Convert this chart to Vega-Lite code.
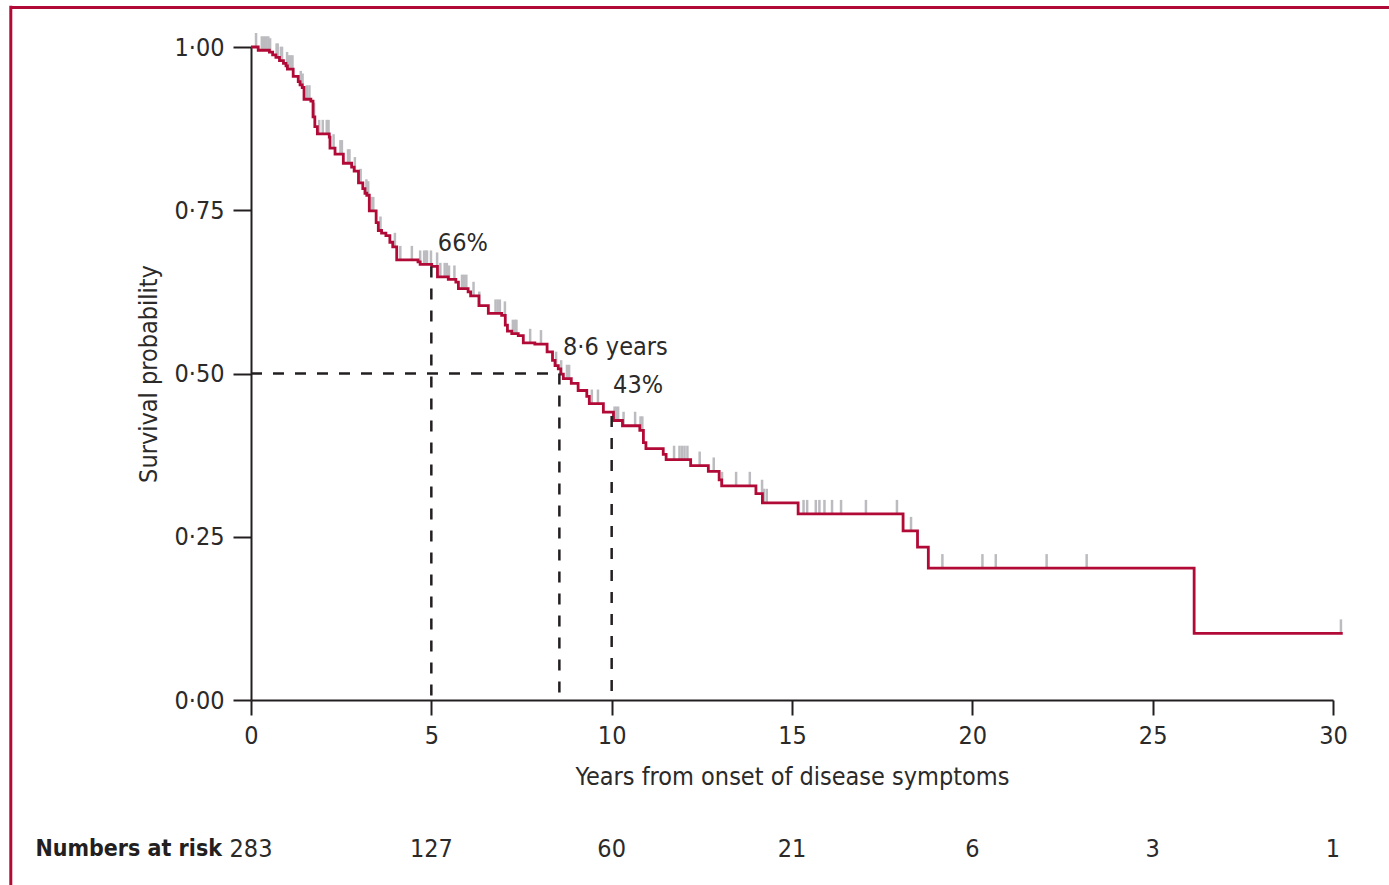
{
  "$schema": "https://vega.github.io/schema/vega-lite/v6.json",
  "autosize": "none",
  "width": 1082,
  "height": 653,
  "padding": {"left": 251, "top": 47, "right": 56, "bottom": 185},
  "background": "white",
  "config": {
    "view": {"stroke": null},
    "font": "DejaVu Sans Condensed, Liberation Sans, sans-serif",
    "axis": {
      "grid": false,
      "domainColor": "#231f20",
      "domainWidth": 2,
      "tickColor": "#231f20",
      "tickWidth": 2,
      "labelFont": "DejaVu Sans Condensed, Liberation Sans, sans-serif",
      "labelFontSize": 25,
      "labelColor": "#2b2a29",
      "titleFont": "DejaVu Sans Condensed, Liberation Sans, sans-serif",
      "titleFontSize": 25,
      "titleFontWeight": "normal",
      "titleColor": "#2b2a29"
    }
  },
  "datasets": {
    "km": [
      {"t": 0, "s": 1.0}, {"t": 0.2, "s": 0.995}, {"t": 0.51, "s": 0.992}, {"t": 0.6, "s": 0.988},
      {"t": 0.69, "s": 0.984}, {"t": 0.79, "s": 0.979}, {"t": 0.9, "s": 0.975}, {"t": 0.97, "s": 0.971},
      {"t": 1.01, "s": 0.966}, {"t": 1.17, "s": 0.955}, {"t": 1.31, "s": 0.947}, {"t": 1.36, "s": 0.942},
      {"t": 1.42, "s": 0.938}, {"t": 1.47, "s": 0.92}, {"t": 1.66, "s": 0.917}, {"t": 1.72, "s": 0.893},
      {"t": 1.77, "s": 0.878}, {"t": 1.84, "s": 0.867}, {"t": 2.17, "s": 0.862}, {"t": 2.19, "s": 0.845},
      {"t": 2.33, "s": 0.836}, {"t": 2.56, "s": 0.822}, {"t": 2.79, "s": 0.816}, {"t": 2.86, "s": 0.81},
      {"t": 2.98, "s": 0.792}, {"t": 3.1, "s": 0.783}, {"t": 3.16, "s": 0.776}, {"t": 3.21, "s": 0.773},
      {"t": 3.28, "s": 0.749}, {"t": 3.47, "s": 0.731}, {"t": 3.53, "s": 0.719}, {"t": 3.62, "s": 0.715},
      {"t": 3.74, "s": 0.711}, {"t": 3.85, "s": 0.701}, {"t": 3.93, "s": 0.694}, {"t": 4.04, "s": 0.674},
      {"t": 4.63, "s": 0.671}, {"t": 4.69, "s": 0.667}, {"t": 5.01, "s": 0.664}, {"t": 5.17, "s": 0.648},
      {"t": 5.47, "s": 0.644}, {"t": 5.68, "s": 0.64}, {"t": 5.75, "s": 0.63}, {"t": 6.02, "s": 0.625},
      {"t": 6.09, "s": 0.619}, {"t": 6.32, "s": 0.604}, {"t": 6.58, "s": 0.592}, {"t": 6.95, "s": 0.589},
      {"t": 7.05, "s": 0.574}, {"t": 7.11, "s": 0.565}, {"t": 7.23, "s": 0.561}, {"t": 7.41, "s": 0.558},
      {"t": 7.55, "s": 0.547}, {"t": 7.87, "s": 0.545}, {"t": 8.21, "s": 0.533}, {"t": 8.36, "s": 0.52},
      {"t": 8.43, "s": 0.512}, {"t": 8.52, "s": 0.507}, {"t": 8.59, "s": 0.499}, {"t": 8.66, "s": 0.492},
      {"t": 8.88, "s": 0.485}, {"t": 9.07, "s": 0.474}, {"t": 9.31, "s": 0.465}, {"t": 9.38, "s": 0.454},
      {"t": 9.77, "s": 0.441}, {"t": 10.05, "s": 0.428}, {"t": 10.3, "s": 0.42}, {"t": 10.78, "s": 0.413},
      {"t": 10.88, "s": 0.394}, {"t": 10.95, "s": 0.385}, {"t": 11.43, "s": 0.376}, {"t": 11.51, "s": 0.368},
      {"t": 12.19, "s": 0.359}, {"t": 12.68, "s": 0.35}, {"t": 12.98, "s": 0.337}, {"t": 13.05, "s": 0.328},
      {"t": 14.0, "s": 0.316}, {"t": 14.18, "s": 0.302}, {"t": 15.17, "s": 0.285}, {"t": 18.08, "s": 0.259},
      {"t": 18.48, "s": 0.234}, {"t": 18.78, "s": 0.202}, {"t": 26.15, "s": 0.102}, {"t": 30.27, "s": 0.102}
    ],
    "censor": [
      {"t": 0.14, "s": 1.0}, {"t": 0.3, "s": 0.995}, {"t": 0.36, "s": 0.995}, {"t": 0.42, "s": 0.995},
      {"t": 0.48, "s": 0.995}, {"t": 0.53, "s": 0.992}, {"t": 0.71, "s": 0.984}, {"t": 0.74, "s": 0.984},
      {"t": 0.83, "s": 0.979}, {"t": 0.86, "s": 0.979}, {"t": 1.0, "s": 0.971}, {"t": 1.05, "s": 0.966},
      {"t": 1.1, "s": 0.966}, {"t": 1.15, "s": 0.966}, {"t": 1.38, "s": 0.942}, {"t": 1.43, "s": 0.938},
      {"t": 1.55, "s": 0.92}, {"t": 1.62, "s": 0.92}, {"t": 1.75, "s": 0.893}, {"t": 1.89, "s": 0.867},
      {"t": 1.99, "s": 0.867}, {"t": 2.1, "s": 0.867}, {"t": 2.15, "s": 0.867}, {"t": 2.29, "s": 0.845},
      {"t": 2.48, "s": 0.836}, {"t": 2.52, "s": 0.836}, {"t": 2.69, "s": 0.822}, {"t": 2.73, "s": 0.822},
      {"t": 2.88, "s": 0.81}, {"t": 3.04, "s": 0.792}, {"t": 3.2, "s": 0.776}, {"t": 3.25, "s": 0.773},
      {"t": 3.35, "s": 0.749}, {"t": 3.39, "s": 0.749}, {"t": 3.59, "s": 0.719}, {"t": 3.99, "s": 0.694},
      {"t": 4.14, "s": 0.674}, {"t": 4.46, "s": 0.674}, {"t": 4.69, "s": 0.667}, {"t": 4.8, "s": 0.667},
      {"t": 4.85, "s": 0.667}, {"t": 4.88, "s": 0.667}, {"t": 4.99, "s": 0.667}, {"t": 5.16, "s": 0.664},
      {"t": 5.25, "s": 0.648}, {"t": 5.37, "s": 0.648}, {"t": 5.43, "s": 0.648}, {"t": 5.49, "s": 0.644},
      {"t": 5.64, "s": 0.644}, {"t": 5.85, "s": 0.63}, {"t": 5.91, "s": 0.63}, {"t": 5.97, "s": 0.63},
      {"t": 6.17, "s": 0.619}, {"t": 6.33, "s": 0.604}, {"t": 6.78, "s": 0.592}, {"t": 6.84, "s": 0.592},
      {"t": 6.9, "s": 0.592}, {"t": 7.04, "s": 0.589}, {"t": 7.26, "s": 0.561}, {"t": 7.32, "s": 0.561},
      {"t": 7.36, "s": 0.561}, {"t": 7.74, "s": 0.547}, {"t": 8.04, "s": 0.545}, {"t": 8.46, "s": 0.512},
      {"t": 8.6, "s": 0.499}, {"t": 8.76, "s": 0.492}, {"t": 8.82, "s": 0.492}, {"t": 9.45, "s": 0.454},
      {"t": 9.62, "s": 0.454}, {"t": 10.08, "s": 0.428}, {"t": 10.13, "s": 0.428}, {"t": 10.18, "s": 0.428},
      {"t": 10.33, "s": 0.42}, {"t": 10.65, "s": 0.42}, {"t": 10.8, "s": 0.413}, {"t": 10.85, "s": 0.413},
      {"t": 11.73, "s": 0.368}, {"t": 11.88, "s": 0.368}, {"t": 11.95, "s": 0.368}, {"t": 12.02, "s": 0.368},
      {"t": 12.1, "s": 0.368}, {"t": 12.44, "s": 0.359}, {"t": 12.83, "s": 0.35}, {"t": 13.06, "s": 0.328},
      {"t": 13.45, "s": 0.328}, {"t": 13.83, "s": 0.328}, {"t": 14.17, "s": 0.316}, {"t": 14.22, "s": 0.302},
      {"t": 14.3, "s": 0.302}, {"t": 15.32, "s": 0.285}, {"t": 15.42, "s": 0.285}, {"t": 15.66, "s": 0.285},
      {"t": 15.76, "s": 0.285}, {"t": 15.9, "s": 0.285}, {"t": 16.11, "s": 0.285}, {"t": 16.36, "s": 0.285},
      {"t": 17.05, "s": 0.285}, {"t": 17.91, "s": 0.285}, {"t": 18.3, "s": 0.259}, {"t": 19.17, "s": 0.202},
      {"t": 20.28, "s": 0.202}, {"t": 20.65, "s": 0.202}, {"t": 22.06, "s": 0.202}, {"t": 23.17, "s": 0.202},
      {"t": 30.22, "s": 0.102}
    ],
    "guides": [
      {"x": 5, "x2": 5, "y": 0.664, "y2": 0},
      {"x": 0, "x2": 8.55, "y": 0.5, "y2": 0.5},
      {"x": 8.55, "x2": 8.55, "y": 0.5, "y2": 0},
      {"x": 10, "x2": 10, "y": 0.435, "y2": 0}
    ],
    "notes": [
      {"x": 5.18, "y": 0.7, "label": "66%"},
      {"x": 8.65, "y": 0.541, "label": "8·6 years"},
      {"x": 10.04, "y": 0.483, "label": "43%"}
    ],
    "risk": [
      {"year": 0, "n": "283"}, {"year": 5, "n": "127"}, {"year": 10, "n": "60"},
      {"year": 15, "n": "21"}, {"year": 20, "n": "6"}, {"year": 25, "n": "3"}, {"year": 30, "n": "1"}
    ],
    "one": [{"k": 1}]
  },
  "layer": [
    {
      "data": {"name": "one"},
      "mark": {"type": "rule", "color": "#b20a37", "strokeWidth": 3},
      "encoding": {
        "x": {"datum": -6.66, "type": "quantitative"},
        "x2": {"datum": 32},
        "y": {"datum": 1.0605, "type": "quantitative"},
        "y2": {"datum": 1.0605}
      }
    },
    {
      "data": {"name": "one"},
      "mark": {"type": "rule", "color": "#b20a37", "strokeWidth": 3},
      "encoding": {
        "x": {"datum": -6.66, "type": "quantitative"},
        "x2": {"datum": -6.66},
        "y": {"datum": 1.063, "type": "quantitative"},
        "y2": {"datum": -0.3}
      }
    },
    {
      "data": {"name": "censor"},
      "mark": {"type": "tick", "orient": "vertical", "color": "#bcbcc0", "size": 14, "thickness": 2.5, "yOffset": -7, "opacity": 1},
      "encoding": {
        "x": {"field": "t", "type": "quantitative", "scale": {"domain": [0, 30], "nice": false, "zero": false},
          "axis": {"values": [0, 5, 10, 15, 20, 25, 30], "tickSize": 15, "labelPadding": 8, "labelFlush": false, "labelOverlap": false,
            "title": "Years from onset of disease symptoms", "titlePadding": 16}},
        "y": {"field": "s", "type": "quantitative", "scale": {"domain": [0, 1], "nice": false, "zero": false},
          "axis": {"values": [0, 0.25, 0.5, 0.75, 1], "tickSize": 18, "labelPadding": 9,
            "labelExpr": "replace(format(datum.value, '.2f'), '.', '·')",
            "title": "Survival probability", "titlePadding": 12}}
      }
    },
    {
      "data": {"name": "km"},
      "mark": {"type": "line", "interpolate": "step-after", "color": "#b20a37", "strokeWidth": 2.8, "strokeJoin": "miter", "strokeCap": "butt"},
      "encoding": {
        "x": {"field": "t", "type": "quantitative"},
        "y": {"field": "s", "type": "quantitative"}
      }
    },
    {
      "data": {"name": "guides"},
      "mark": {"type": "rule", "color": "#231f20", "strokeWidth": 2.5, "strokeDash": [11, 11]},
      "encoding": {
        "x": {"field": "x", "type": "quantitative"},
        "x2": {"field": "x2"},
        "y": {"field": "y", "type": "quantitative"},
        "y2": {"field": "y2"}
      }
    },
    {
      "data": {"name": "notes"},
      "mark": {"type": "text", "align": "left", "baseline": "middle", "fontSize": 25, "color": "#2b2a29"},
      "encoding": {
        "x": {"field": "x", "type": "quantitative"},
        "y": {"field": "y", "type": "quantitative"},
        "text": {"field": "label"}
      }
    },
    {
      "data": {"name": "risk"},
      "mark": {"type": "text", "align": "center", "baseline": "middle", "fontSize": 25, "color": "#2b2a29"},
      "encoding": {
        "x": {"field": "year", "type": "quantitative"},
        "y": {"datum": -0.228, "type": "quantitative"},
        "text": {"field": "n"}
      }
    },
    {
      "data": {"name": "one"},
      "mark": {"type": "text", "align": "right", "baseline": "middle", "fontSize": 23, "fontWeight": "bold", "color": "#231f20", "dx": -29},
      "encoding": {
        "x": {"datum": 0, "type": "quantitative"},
        "y": {"datum": -0.228, "type": "quantitative"},
        "text": {"value": "Numbers at risk"}
      }
    }
  ]
}
